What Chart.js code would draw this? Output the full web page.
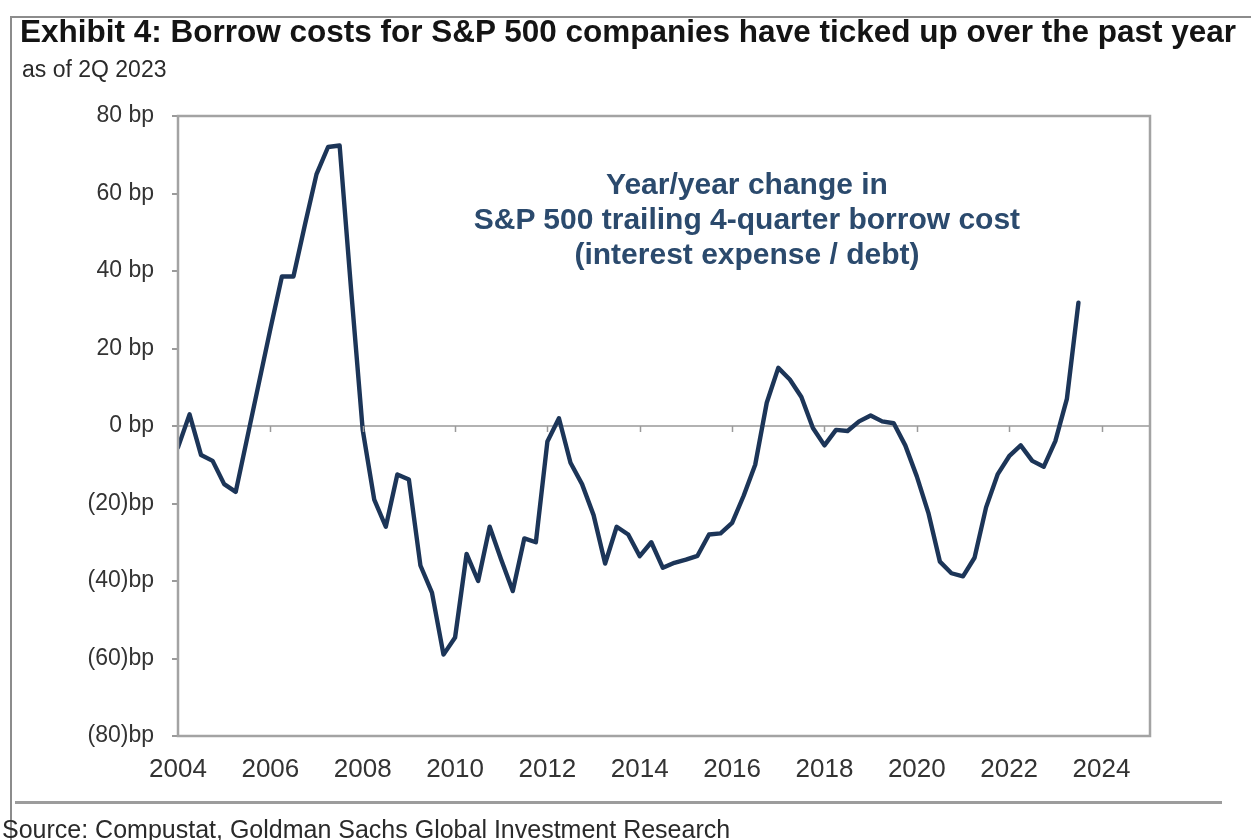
<!DOCTYPE html>
<html>
<head>
<meta charset="utf-8">
<script src="https://cdn.jsdelivr.net/npm/chart.js@4.4.0/dist/chart.umd.min.js"></script>
<style>
  html, body { margin: 0; padding: 0; background: #fff; }
  body { width: 1251px; height: 840px; position: relative; overflow: hidden; font-family: "Liberation Sans", Arial, sans-serif; }
  #frame { position: absolute; left: 10px; top: 16px; width: 1260px; height: 840px; border-left: 2px solid #8c8c8c; border-top: 2px solid #8c8c8c; }
  #title { position: absolute; left: 20px; top: 13px; font-weight: bold; font-size: 31.5px; color: #141414; white-space: nowrap; }
  #sub { position: absolute; left: 22px; top: 56px; font-size: 23px; color: #2a2a2a; white-space: nowrap; }
  #note { position: absolute; left: 447px; width: 600px; top: 166px; text-align: center; font-weight: bold; font-size: 30px; line-height: 35px; color: #2b4a6d; }
  #rule { position: absolute; left: 15px; top: 801px; width: 1207px; height: 3px; background: #9c9c9c; }
  #source { position: absolute; left: 2px; top: 815px; font-size: 25px; color: #2a2a2a; white-space: nowrap; }
  #chart { position: absolute; left: 0; top: 0; }
</style>
</head>
<body>
<div id="frame"></div>
<canvas id="chart" width="1251" height="840"></canvas>
<div id="title">Exhibit 4: Borrow costs for S&amp;P 500 companies have ticked up over the past year</div>
<div id="sub">as of 2Q 2023</div>
<div id="note">Year/year change in<br>S&amp;P 500 trailing 4-quarter borrow cost<br>(interest expense / debt)</div>
<div id="rule"></div>
<div id="source">Source: Compustat, Goldman Sachs Global Investment Research</div>
<script>
// quarterly series, 4Q03 .. 2Q23 (plotted at quarter end)
const firstYear = 2003, firstQuarter = 4;
const borrowCostChange = [
  -5.5, 3, -7.5, -9, -15, -17, -3, 11, 25, 38.6,
  38.6, 52, 65, 72, 72.4, 35, -1, -19, -26, -12.5,
  -13.8, -36, -43, -59, -54.6, -33, -40, -26, -34.5, -42.6,
  -29, -30, -4, 2, -9.5, -15, -23, -35.5, -26, -28,
  -33.6, -30, -36.6, -35.3, -34.5, -33.5, -28, -27.7, -25, -18,
  -10, 6, 15, 12, 7.5, -0.5, -5, -1, -1.3, 1.2,
  2.7, 1.2, 0.7, -5, -13, -22.4, -35, -38, -38.8, -34,
  -21, -12.5, -7.8, -5, -9, -10.5, -3.9, 7, 31.8
];
const yearTicks = [2004, 2006, 2008, 2010, 2012, 2014, 2016, 2018, 2020, 2022, 2024];
const bpTicks = [80, 60, 40, 20, 0, -20, -40, -60, -80];

const points = borrowCostChange.map((v, i) => {
  const q = firstQuarter + i;
  const year = firstYear + Math.floor((q - 1) / 4);
  const qq = ((q - 1) % 4) + 1;
  return { x: year + qq / 4, y: v };
});

const fmtBp = v => v > 0 ? v + ' bp' : v === 0 ? '0 bp' : '(' + (-v) + ')bp';

const boxPlugin = {
  id: 'box',
  afterDatasetsDraw(chart) {
    const { ctx, chartArea: a, scales } = chart;
    const y0 = scales.y.getPixelForValue(0);
    ctx.save();
    ctx.strokeStyle = '#9a9a9a';
    ctx.lineWidth = 1.5;
    yearTicks.slice(1).forEach(t => {
      const x = Math.round(scales.x.getPixelForValue(t)) + 0.5;
      ctx.beginPath();
      ctx.moveTo(x, y0);
      ctx.lineTo(x, y0 + 6);
      ctx.stroke();
    });
    ctx.strokeStyle = '#a3a3a3';
    ctx.lineWidth = 2.5;
    ctx.strokeRect(a.left, a.top, a.right - a.left, a.bottom - a.top);
    ctx.restore();
  }
};

new Chart(document.getElementById('chart'), {
  type: 'line',
  data: {
    datasets: [{
      data: points,
      borderColor: '#1c3558',
      borderWidth: 4.4,
      pointRadius: 0,
      tension: 0,
      borderJoinStyle: 'round',
      borderCapStyle: 'round'
    }]
  },
  options: {
    responsive: false,
    devicePixelRatio: 1,
    animation: false,
    layout: { padding: { top: 116, right: 101, bottom: 54, left: 0 } },
    plugins: { legend: { display: false }, tooltip: { enabled: false } },
    scales: {
      x: {
        type: 'linear',
        min: 2004,
        max: 2025.05,
        afterBuildTicks: s => { s.ticks = yearTicks.map(v => ({ value: v })); },
        afterFit: s => { s.height = 50; },
        grid: { display: false },
        border: { display: false },
        ticks: {
          autoSkip: false,
          maxRotation: 0,
          padding: 10,
          color: '#333',
          font: { family: 'Liberation Sans', size: 26 },
          callback: v => String(v)
        }
      },
      y: {
        min: -80,
        max: 80,
        afterBuildTicks: s => { s.ticks = bpTicks.map(v => ({ value: v })); },
        afterFit: s => { s.width = 178; },
        grid: {
          drawTicks: true,
          tickLength: 6,
          tickColor: '#9a9a9a',
          lineWidth: 2,
          color: c => c.tick && c.tick.value === 0 ? '#b2b2b2' : 'rgba(0,0,0,0)'
        },
        border: { display: false },
        ticks: {
          padding: 18,
          color: '#333',
          font: { family: 'Liberation Sans', size: 23 },
          callback: v => fmtBp(v)
        }
      }
    }
  },
  plugins: [boxPlugin]
});
</script>
</body>
</html>
